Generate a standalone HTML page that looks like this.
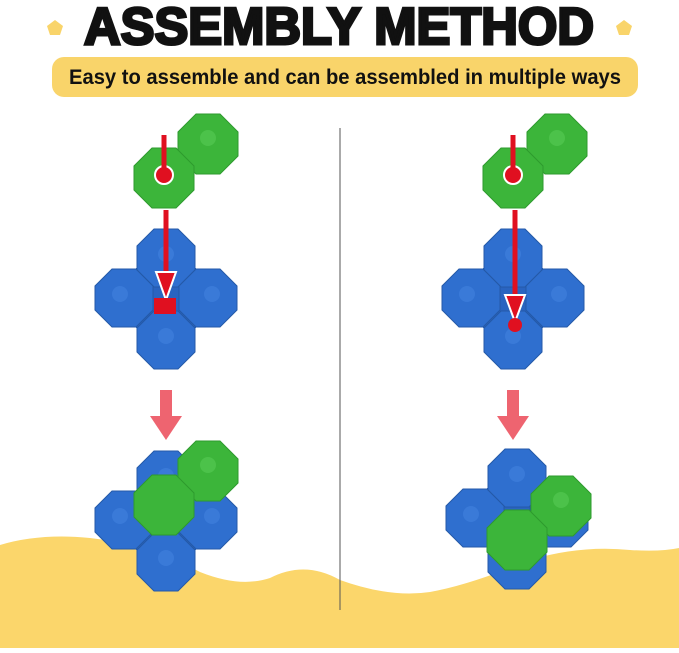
<!DOCTYPE html>
<html><head><style>
body{margin:0;width:679px;height:648px;background:#fff;overflow:hidden;font-family:"Liberation Sans",sans-serif}
</style></head><body>
<svg width="679" height="648" viewBox="0 0 679 648" xmlns="http://www.w3.org/2000/svg">
<defs>
<polygon id="ob" points="12,-29 29,-12 29,12 12,29 -12,29 -29,12 -29,-12 -12,-29" fill="#2f6fcf" stroke="#2459a8" stroke-width="1"/>
<polygon id="og" points="12,-30 30,-12 30,12 12,30 -12,30 -30,12 -30,-12 -12,-30" fill="#3cb53a" stroke="#2e9a2e" stroke-width="1"/>
<g id="cross">
<rect x="-30" y="-30" width="60" height="60" fill="#2a64c0"/>
<use href="#ob" x="0" y="-40"/><use href="#ob" x="-42" y="0"/><use href="#ob" x="42" y="0"/><use href="#ob" x="0" y="42"/>
<circle cx="0" cy="-44" r="8" fill="#3a7ad8"/><circle cx="-46" cy="-4" r="8" fill="#3a7ad8"/><circle cx="46" cy="-4" r="8" fill="#3a7ad8"/><circle cx="0" cy="38" r="8" fill="#3a7ad8"/>
</g>
<g id="green2">
<use href="#og" x="44" y="-34"/><use href="#og" x="0" y="0"/>
<circle cx="44" cy="-40" r="8" fill="#4cc24a"/>
</g>
</defs>
<text x="339" y="44" font-size="52" font-weight="bold" text-anchor="middle" fill="#111" stroke="#111" stroke-width="3" textLength="510" lengthAdjust="spacingAndGlyphs" font-family="Liberation Sans Narrow, Liberation Sans">ASSEMBLY METHOD</text>
<polygon points="55,20 63,26 60,35 50,35 47,26" fill="#f9d46a"/>
<polygon points="624,20 632,26 629,35 619,35 616,26" fill="#f9d46a"/>
<rect x="52" y="57" width="586" height="40" rx="12" fill="#f9d46a"/>
<text x="345" y="84" font-size="21" font-weight="bold" text-anchor="middle" fill="#111" textLength="552" lengthAdjust="spacingAndGlyphs" font-family="Liberation Sans Narrow, Liberation Sans">Easy to assemble and can be assembled in multiple ways</text>
<path d="M0,545 Q40,533 90,538 Q150,545 200,572 Q240,588 270,578 Q305,560 340,580 Q390,598 430,592 Q470,585 530,560 Q580,545 630,550 Q660,552 679,548 L679,648 L0,648Z" fill="#fbd66b"/>
<line x1="340" y1="128" x2="340" y2="610" stroke="#555" stroke-width="1"/>
<!-- left -->
<use href="#cross" x="166" y="298"/>
<use href="#green2" x="164" y="178"/>
<circle cx="164" cy="175" r="9" fill="#e01020" stroke="#fff" stroke-width="2"/>
<line x1="164" y1="135" x2="164" y2="172" stroke="#e01020" stroke-width="5"/>
<line x1="166" y1="210" x2="166" y2="280" stroke="#e01020" stroke-width="5"/>
<polygon points="156,272 176,272 166,300" fill="#e01020" stroke="#fff" stroke-width="2"/>
<rect x="154" y="298" width="22" height="16" fill="#e01020"/>
<rect x="160" y="390" width="12" height="28" fill="#ee6470"/><polygon points="150,416 182,416 166,440" fill="#ee6470"/>
<use href="#cross" x="166" y="520"/>
<use href="#green2" x="164" y="505"/>
<!-- right -->
<use href="#cross" x="513" y="298"/>
<use href="#green2" x="513" y="178"/>
<circle cx="513" cy="175" r="9" fill="#e01020" stroke="#fff" stroke-width="2"/>
<line x1="513" y1="135" x2="513" y2="172" stroke="#e01020" stroke-width="5"/>
<line x1="515" y1="210" x2="515" y2="300" stroke="#e01020" stroke-width="5"/>
<polygon points="505,295 525,295 515,322" fill="#e01020" stroke="#fff" stroke-width="2"/>
<circle cx="515" cy="325" r="7" fill="#e01020"/>
<rect x="507" y="390" width="12" height="28" fill="#ee6470"/><polygon points="497,416 529,416 513,440" fill="#ee6470"/>
<use href="#cross" x="517" y="518"/>
<use href="#green2" x="517" y="540"/>
</svg>
</body></html>
